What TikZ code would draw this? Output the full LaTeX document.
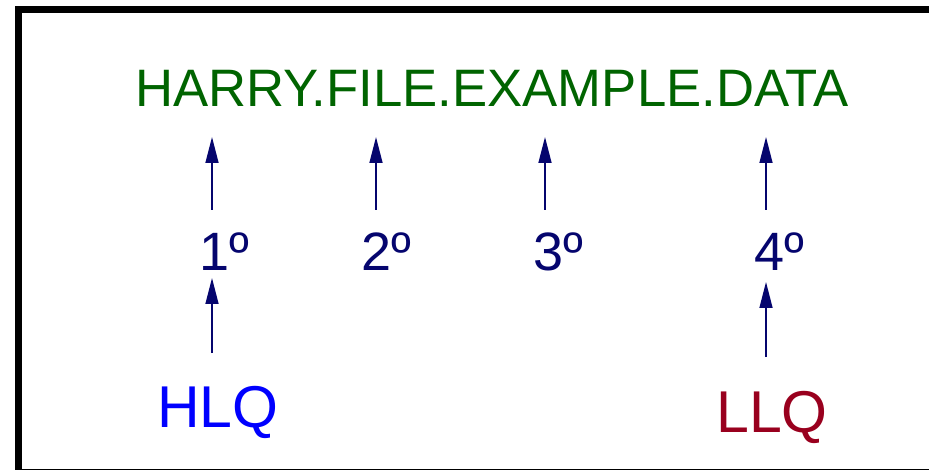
\documentclass[tikz,border=0pt]{standalone}
\usepackage{fontspec}
\setmainfont{Liberation Sans}
\usetikzlibrary{arrows.meta}
\definecolor{titlegreen}{RGB}{0,100,0}
\definecolor{navyc}{RGB}{5,5,110}
\definecolor{hlqblue}{RGB}{0,0,255}
\definecolor{llqred}{RGB}{153,0,30}
\tikzset{
  lbl/.style={inner sep=0pt, anchor=base west},
  big/.style={font=\fontsize{52.7}{60}\selectfont},
  num/.style={font=\fontsize{54}{60}\selectfont},
  huge/.style={font=\fontsize{59}{66}\selectfont},
  arr/.style={draw=navyc, line width=1.5pt, -{Triangle[length=26pt,width=13pt]}},
}
\begin{document}
\begin{tikzpicture}[x=1pt,y=-1pt]
\useasboundingbox (0,0) rectangle (929,470);
\begin{scope}
\clip (0,0) rectangle (929,470);
\draw[line width=7pt] (18.5,9.5) rectangle (940,472);
\end{scope}
\node[inner sep=0pt, anchor=base, big, text=titlegreen] (title) at (492,107) {HARRY.FILE.EXAMPLE.DATA};
\node[lbl, num, text=navyc] (n1) at (199,271) {1º};
\node[lbl, num, text=navyc] (n2) at (361,271) {2º};
\node[lbl, num, text=navyc] (n3) at (533,271) {3º};
\node[lbl, num, text=navyc] (n4) at (754,271) {4º};
\node[lbl, huge, text=hlqblue] (hlq) at (157,427) {HLQ};
\node[lbl, huge, text=llqred] (llq) at (716,432) {LLQ};
\coordinate (t1) at (212,137);
\coordinate (t2) at (376,137);
\coordinate (t3) at (545,137);
\coordinate (t4) at (766,137);
\coordinate (b1) at (212,210);
\coordinate (b2) at (376,210);
\coordinate (b3) at (545,210);
\coordinate (b4) at (766,210);
\coordinate (u1) at (212,278);
\coordinate (u4) at (766,282);
\coordinate (h1) at (212,353);
\coordinate (h4) at (766,357);
\draw[arr] (b1) -- (t1);
\draw[arr] (b2) -- (t2);
\draw[arr] (b3) -- (t3);
\draw[arr] (b4) -- (t4);
\draw[arr] (h1) -- (u1);
\draw[arr] (h4) -- (u4);
\end{tikzpicture}
\end{document}
